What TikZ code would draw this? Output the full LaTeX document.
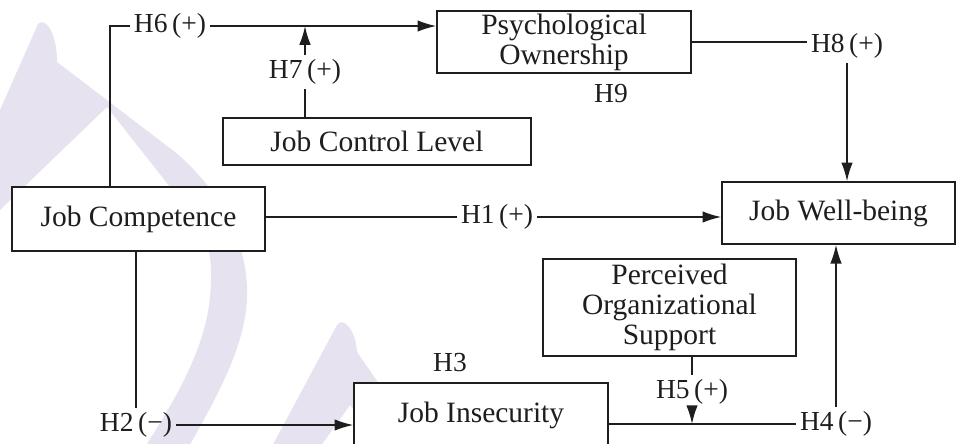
\documentclass[tikz,border=0pt]{standalone}
\usepackage{fontspec}
\setmainfont{Liberation Serif}
\usetikzlibrary{arrows.meta}
\definecolor{wmark}{RGB}{231,226,239}
\definecolor{ink}{RGB}{30,30,30}

\begin{document}
\begin{tikzpicture}[x=0.4pt, y=-0.4pt,
    box/.style={draw=ink, fill=white, line width=0.6pt, align=center, inner sep=0pt,
        font=\fontsize{11.8}{12}\selectfont, text=ink},
    hyp/.style={inner sep=1.5pt, font=\fontsize{11}{12}\selectfont, text=ink},
    link/.style={draw=ink, line width=0.6pt},
    arrow/.style={link, -{Latex[length=7.5pt,width=4.6pt]}}
]

\useasboundingbox (0,0) rectangle (964,443);

% Watermark in the background
\begin{scope}
\clip (0,0) rectangle (964,443);
\fill[wmark] (0,110) -- (38,24) .. controls (44,17) and (57,30) .. (57,62)
    -- (175,152) .. controls (215,185) and (250,240) .. (247,300)
    .. controls (244,350) and (215,400) .. (187,450) -- (143,450)
    .. controls (175,400) and (205,350) .. (210,297)
    .. controls (213,265) and (210,245) .. (200,225)
    -- (107,107) -- (0,210) -- cycle;
\fill[wmark] (270,450) -- (337,325) .. controls (343,316) and (356,330) .. (357,352)
    -- (425,450) -- (385,450) -- (350,405) -- (318,450) -- cycle;
\end{scope}

% Constructs
\node[box, minimum width=101.6pt, minimum height=24.8pt] (own)   at (564,42)    {Psychological\\Ownership};
\node[box, minimum width=123.2pt, minimum height=18.8pt] (ctrl)  at (377,141.5) {Job Control Level};
\node[box, minimum width=101.2pt, minimum height=25.6pt] (comp)  at (138.5,219) {Job Competence};
\node[box, minimum width=93.2pt,  minimum height=24.8pt] (well)  at (838.5,213) {Job Well-being};
\node[box, minimum width=101.2pt, minimum height=38.8pt] (pos)   at (669.5,307.5) {Perceived\\Organizational\\Support};
\node[box, minimum width=101.6pt, minimum height=25.6pt] (insec) at (481,415)   {Job Insecurity};

% Hypothesis labels
\node[hyp] (h6) at (170,26)  {H6\,(+)};
\node[hyp] (h7) at (305,72)  {H7\,(+)};
\node[hyp] (h8) at (847,46)  {H8\,(+)};
\node[hyp] (h9) at (611,94)  {H9};
\node[hyp] (h1) at (497,217) {H1\,(+)};
\node[hyp] (h2) at (136,425) {H2\,(−)};
\node[hyp] (h3) at (450,363) {H3};
\node[hyp] (h4) at (836,424) {H4\,(−)};
\node[hyp] (h5) at (692,392) {H5\,(+)};

\coordinate (h6base) at (110,0);

% Job competence -> psychological ownership, moderated by job control level
\draw[link]  (comp.north -| h6base) |- (h6.west);
\draw[arrow] (h6.east) -- (own.west |- h6.east);
\draw[link]  (ctrl.north -| h7) -- (h7.south);
\draw[arrow] (h7.north) -- (h7 |- h6);

% Psychological ownership -> job well-being
\draw[link]  (own.east) -- (own.east -| h8.west);
\draw[arrow] (h8.south) -- (well.north -| h8);

% Job competence -> job well-being
\draw[link]  (comp.east |- h1) -- (h1.west);
\draw[arrow] (h1.east) -- (well.west |- h1);

% Job competence -> job insecurity
\draw[link]  (comp.south -| h2) -- (h2.north);
\draw[arrow] (h2.east) -- (insec.west |- h2);

% Job insecurity -> job well-being, moderated by organizational support
\draw[link]  (insec.east |- h4) -- (h4.west);
\draw[arrow] (h4.north) -- (well.south -| h4);
\draw[link]  (pos.south -| h5) -- (h5.north);
\draw[arrow] (h5.south) -- (h5 |- h4);

\end{tikzpicture}
\end{document}
